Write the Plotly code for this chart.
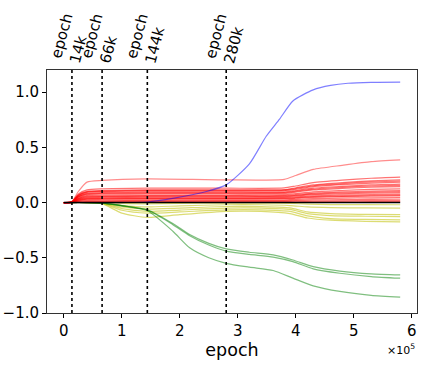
import plotly.graph_objects as go

# epochs in thousands
red_epochs = [0, 14, 25, 40, 66, 144, 280, 380, 400, 430, 480, 530, 580]
red_top = [0, 0.01, 0.10, 0.185, 0.20, 0.215, 0.205, 0.21, 0.245, 0.30, 0.337, 0.37, 0.386]
red_curves = [
    [0, 0.007, 0.078, 0.114, 0.124, 0.13, 0.13, 0.132, 0.15, 0.18, 0.203, 0.22, 0.23],
    [0, 0.006, 0.069, 0.101, 0.109, 0.115, 0.115, 0.117, 0.133, 0.16, 0.181, 0.196, 0.205],
    [0, 0.006, 0.066, 0.097, 0.104, 0.11, 0.11, 0.112, 0.127, 0.152, 0.172, 0.187, 0.195],
    [0, 0.005, 0.062, 0.092, 0.099, 0.104, 0.104, 0.106, 0.12, 0.144, 0.162, 0.176, 0.184],
    [0, 0.005, 0.056, 0.083, 0.089, 0.094, 0.094, 0.095, 0.109, 0.131, 0.147, 0.16, 0.167],
    [0, 0.005, 0.053, 0.078, 0.084, 0.088, 0.088, 0.089, 0.102, 0.122, 0.138, 0.15, 0.156],
    [0, 0.004, 0.049, 0.072, 0.078, 0.082, 0.082, 0.083, 0.095, 0.114, 0.128, 0.139, 0.145],
    [0, 0.004, 0.042, 0.062, 0.067, 0.07, 0.07, 0.071, 0.081, 0.097, 0.109, 0.119, 0.124],
    [0, 0.003, 0.037, 0.055, 0.059, 0.062, 0.062, 0.063, 0.071, 0.086, 0.096, 0.104, 0.109],
    [0, 0.003, 0.034, 0.05, 0.054, 0.057, 0.057, 0.058, 0.065, 0.078, 0.087, 0.095, 0.1],
    [0, 0.003, 0.031, 0.045, 0.048, 0.051, 0.051, 0.052, 0.059, 0.071, 0.079, 0.086, 0.09],
    [0, 0.002, 0.026, 0.038, 0.041, 0.043, 0.043, 0.044, 0.05, 0.06, 0.067, 0.073, 0.076],
    [0, 0.002, 0.023, 0.034, 0.036, 0.038, 0.038, 0.039, 0.044, 0.053, 0.059, 0.064, 0.068],
    [0, 0.002, 0.02, 0.03, 0.032, 0.034, 0.034, 0.035, 0.039, 0.047, 0.053, 0.057, 0.06],
    [0, 0.001, 0.015, 0.022, 0.024, 0.025, 0.025, 0.025, 0.029, 0.035, 0.04, 0.043, 0.045],
    [0, 0.001, 0.01, 0.015, 0.016, 0.017, 0.017, 0.017, 0.02, 0.024, 0.026, 0.029, 0.03],
    [0, 0, 0.006, 0.009, 0.0095, 0.01, 0.01, 0.01, 0.012, 0.014, 0.016, 0.017, 0.018],
    [0, 0, 0.002, 0.0035, 0.004, 0.004, 0.004, 0.004, 0.005, 0.006, 0.007, 0.0075, 0.008],
]

blue_epochs = [0, 100, 144, 190, 246, 280, 320, 349, 372, 395, 430, 460, 490, 530, 580]
blue_curve = [0, 0, 0.005, 0.04, 0.10, 0.16, 0.35, 0.6, 0.755, 0.92, 1.02, 1.06, 1.08, 1.088, 1.09]

yellow_epochs = [0, 40, 66, 100, 144, 200, 280, 340, 390, 420, 460, 520, 580]
yellow_curves = [
    [0, 0, -0.001, -0.008, -0.012, -0.008, -0.005, -0.005, -0.008, -0.014, -0.018, -0.019, -0.02],
    [0, 0, -0.003, -0.025, -0.04, -0.03, -0.02, -0.02, -0.027, -0.04, -0.046, -0.049, -0.05],
    [0, 0, -0.005, -0.04, -0.06, -0.05, -0.036, -0.037, -0.048, -0.085, -0.1, -0.107, -0.11],
    [0, 0, -0.006, -0.055, -0.08, -0.068, -0.05, -0.05, -0.062, -0.1, -0.118, -0.124, -0.127],
    [0, 0, -0.008, -0.07, -0.096, -0.085, -0.066, -0.066, -0.08, -0.12, -0.145, -0.153, -0.157],
    [0, 0, -0.01, -0.096, -0.135, -0.11, -0.08, -0.08, -0.1, -0.14, -0.16, -0.17, -0.175],
]

green_epochs = [0, 40, 66, 100, 144, 188, 217, 250, 280, 320, 361, 395, 430, 476, 530, 580]
green_curves = [
    [0, 0, -0.005, -0.028, -0.065, -0.19, -0.29, -0.37, -0.42, -0.45, -0.473, -0.52, -0.58, -0.62, -0.645, -0.655],
    [0, 0, -0.005, -0.028, -0.068, -0.2, -0.3, -0.385, -0.44, -0.47, -0.494, -0.535, -0.60, -0.64, -0.67, -0.685],
    [0, 0, -0.005, -0.03, -0.075, -0.26, -0.41, -0.5, -0.55, -0.585, -0.615, -0.684, -0.754, -0.805, -0.84, -0.856],
]

zero_epochs = [0, 580]
zero_curve = [0, 0]

marker_epochs = [14, 66, 144, 280]
marker_labels = ['14k', '66k', '144k', '280k']

x_ticks = [0, 1, 2, 3, 4, 5, 6]
y_ticks = [-1.0, -0.5, 0.0, 0.5, 1.0]


def to_epochs(values):
    return [v * 1000 for v in values]


def add_curve(fig, x, y, color):
    fig.add_trace(go.Scatter(
        x=to_epochs(x), y=y, mode='lines',
        line=dict(color=color, width=1.2, shape='spline', smoothing=0.6),
        showlegend=False, hoverinfo='skip'
    ))


fig = go.Figure()

for curve in yellow_curves:
    add_curve(fig, yellow_epochs, curve, 'rgba(191,191,0,0.55)')
for curve in green_curves:
    add_curve(fig, green_epochs, curve, 'rgba(0,128,0,0.5)')
add_curve(fig, red_epochs, red_top, 'rgba(255,0,0,0.45)')
for curve in red_curves:
    add_curve(fig, red_epochs, curve, 'rgba(255,0,0,0.55)')
add_curve(fig, blue_epochs, blue_curve, 'rgba(0,0,255,0.5)')
fig.add_trace(go.Scatter(
    x=to_epochs(zero_epochs), y=zero_curve, mode='lines',
    line=dict(color='black', width=1.5), showlegend=False, hoverinfo='skip'
))

font = dict(family='DejaVu Sans', size=15, color='black')

for ep, label in zip(marker_epochs, marker_labels):
    fig.add_shape(type='line', x0=ep * 1000, x1=ep * 1000, y0=0, y1=1,
                  xref='x', yref='paper',
                  line=dict(color='black', width=1.6, dash='dot'))
    fig.add_annotation(x=ep * 1000, y=1, xref='x', yref='paper',
                       text='epoch<br>' + label, showarrow=False,
                       textangle=-75, xanchor='center', yanchor='bottom',
                       yshift=2, font=font, align='left')

fig.add_annotation(x=1, y=0, xref='paper', yref='paper',
                   text='×10<sup>5</sup>', showarrow=False,
                   xanchor='right', yanchor='top', yshift=-27,
                   font=dict(family='DejaVu Sans', size=11, color='black'))

fig.update_layout(
    width=423, height=371,
    margin=dict(l=47, r=6, t=70, b=58, autoexpand=False),
    plot_bgcolor='white', paper_bgcolor='white',
    font=font,
    xaxis=dict(
        range=[-29000, 609000],
        tickvals=[t * 100000 for t in x_ticks],
        ticktext=[str(t) for t in x_ticks],
        ticks='outside', ticklen=4, tickcolor='black',
        showline=True, linecolor='#333', linewidth=1, mirror=True,
        showgrid=False, zeroline=False, automargin=False,
        title=dict(text='epoch', font=dict(size=17.5), standoff=4),
    ),
    yaxis=dict(
        range=[-1.0, 1.2],
        tickvals=y_ticks, tickformat='.1f',
        ticks='outside', ticklen=4, tickcolor='black',
        showline=True, linecolor='#333', linewidth=1, mirror=True,
        showgrid=False, zeroline=False, automargin=False,
    ),
)

fig.write_html("out.html", config={'displayModeBar': False},
               post_script="document.body.style.margin='0';")
